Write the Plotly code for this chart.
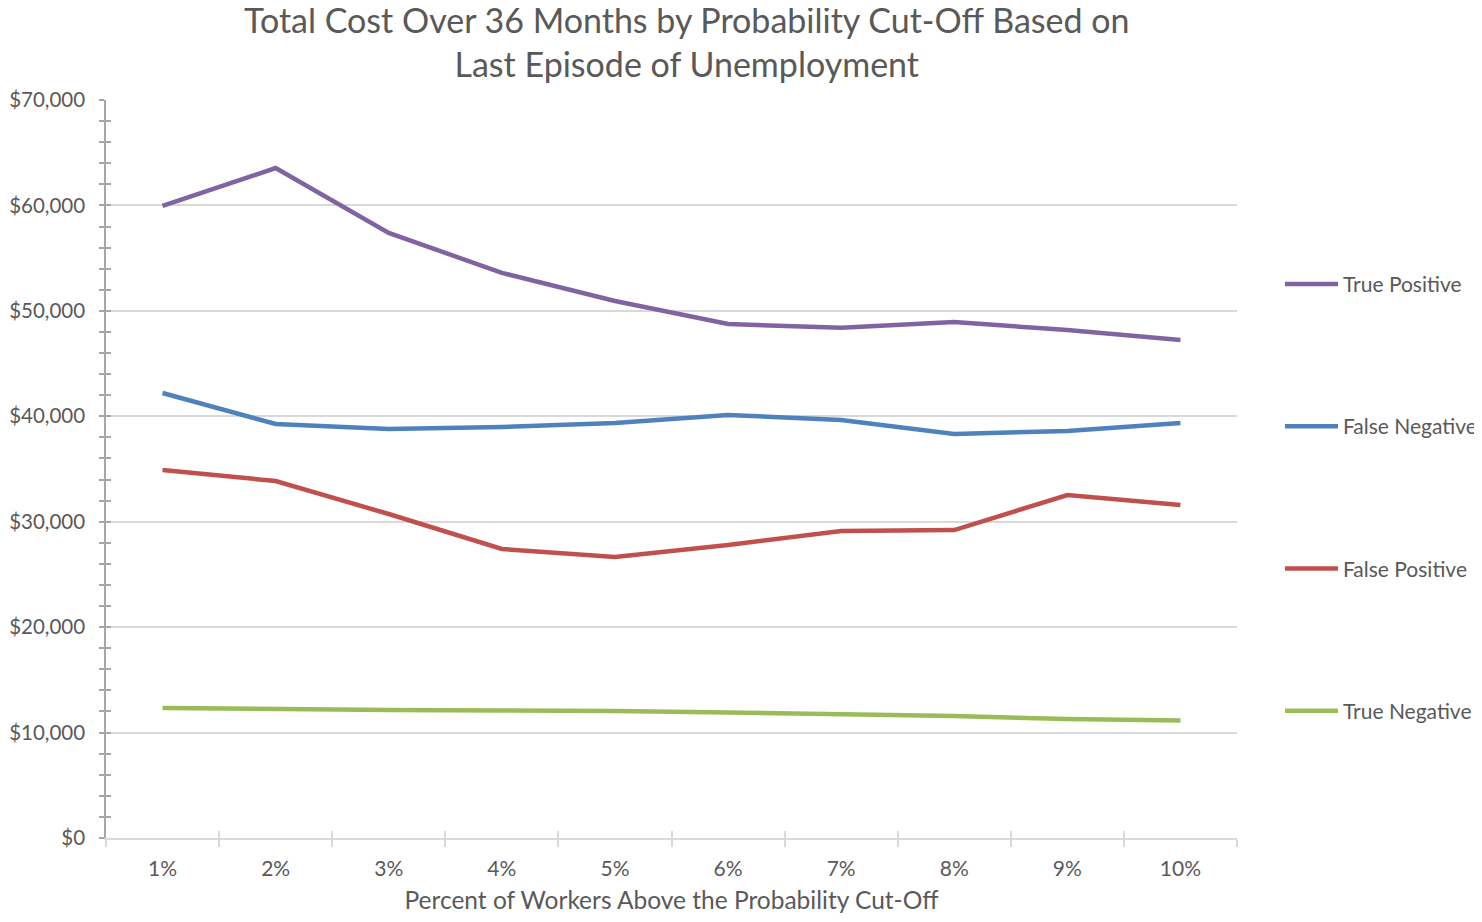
import plotly.graph_objects as go

categories = ["1%", "2%", "3%", "4%", "5%", "6%", "7%", "8%", "9%", "10%"]
true_positive = [59950, 63550, 57400, 53600, 50930, 48750, 48400, 48940, 48180, 47230]
false_negative = [42210, 39270, 38800, 38980, 39360, 40120, 39650, 38330, 38600, 39360]
false_positive = [34900, 33860, 30730, 27410, 26650, 27790, 29120, 29210, 32530, 31590]
true_negative = [12330, 12200, 12140, 12090, 12050, 11900, 11760, 11570, 11290, 11150]

series = [
    ("True Positive", true_positive, "#8064A2"),
    ("False Negative", false_negative, "#4F81BD"),
    ("False Positive", false_positive, "#C0504D"),
    ("True Negative", true_negative, "#9BBB59"),
]

FONT = "Lato"
TXT = "#595959"

fig = go.Figure()
for i, (name, vals, col) in enumerate(series):
    fig.add_trace(go.Scatter(
        x=categories, y=vals, name=name, mode="lines",
        line=dict(color=col, width=4.5), legendgroup=f"g{i}",
    ))

fig.update_layout(
    width=1466, height=906,
    margin=dict(l=98, r=237, t=92, b=76, autoexpand=False),
    paper_bgcolor="white", plot_bgcolor="white",
    font=dict(family=FONT, color=TXT, size=21),
    showlegend=True,
    legend=dict(
        x=1.038, xanchor="left", y=0.461, yanchor="middle",
        font=dict(size=21, color=TXT), tracegroupgap=112,
        itemwidth=53, bgcolor="rgba(0,0,0,0)",
    ),
    xaxis=dict(
        type="category", tickson="boundaries", ticks="outside", ticklen=7,
        tickcolor="#D9D9D9", tickwidth=1.5,
        showline=True, linecolor="#D9D9D9", linewidth=1.5,
        showgrid=False, range=[-0.5, 9.5], automargin=False,
        title=dict(text="Percent of Workers Above the Probability Cut-Off", font=dict(size=24.5, color=TXT), standoff=33),
        tickfont=dict(size=21, color=TXT), ticklabelstandoff=11,
    ),
    yaxis=dict(
        range=[0, 70000], dtick=10000, tickprefix="$", tickformat=",d",
        showgrid=True, gridcolor="#D9D9D9", gridwidth=1.5,
        showline=True, linecolor="#A6A6A6", linewidth=1.5,
        ticks="outside", ticklen=5, tickcolor="#A6A6A6", tickwidth=1.5,
        minor=dict(dtick=2000, ticks="outside", ticklen=5, tickcolor="#A6A6A6", tickwidth=1.5, showgrid=False),
        tickfont=dict(size=20.5, color=TXT), ticklabelstandoff=10, zeroline=False, automargin=False,
    ),
    xaxis2=dict(
        type="category", overlaying="x", matches="x", tickson="boundaries",
        ticks="inside", ticklen=7, tickcolor="#D9D9D9", tickwidth=1.5,
        showticklabels=False, showgrid=False, showline=False, automargin=False,
    ),
    yaxis2=dict(
        overlaying="y", matches="y", range=[0, 70000], dtick=10000,
        ticks="inside", ticklen=5, tickcolor="#A6A6A6", tickwidth=1.5,
        minor=dict(dtick=2000, ticks="inside", ticklen=5, tickcolor="#A6A6A6", tickwidth=1.5, showgrid=False),
        showticklabels=False, showgrid=False, showline=False, zeroline=False, automargin=False,
    ),
    annotations=[dict(
        text="Total Cost Over 36 Months by Probability Cut-Off Based on<br>Last Episode of Unemployment",
        xref="paper", yref="paper", x=0.514, y=1.079, xanchor="center", yanchor="middle",
        showarrow=False, font=dict(size=34, color=TXT, family=FONT),
    )],
)

# invisible trace to activate the overlay axes (for crossing tick marks)
fig.add_trace(go.Scatter(x=categories, y=true_negative, xaxis="x2", yaxis="y2",
                         mode="lines", line=dict(width=0), opacity=0,
                         showlegend=False, hoverinfo="skip"))

fig.write_html("out.html")
